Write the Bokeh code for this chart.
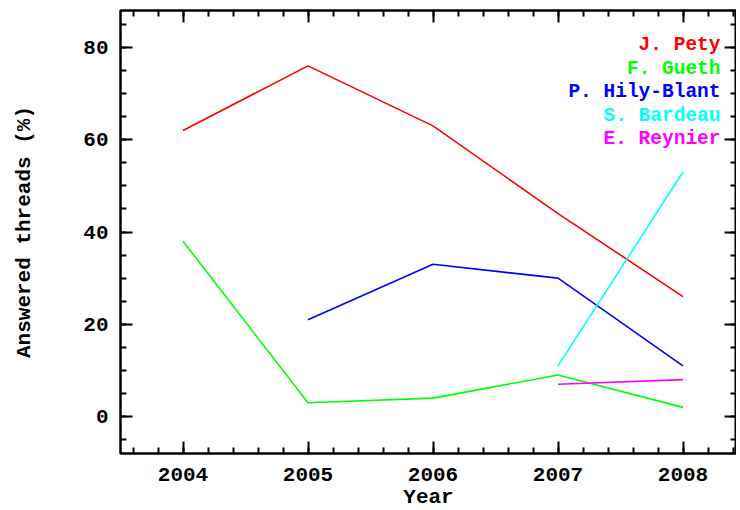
from bokeh.plotting import figure
from bokeh.models import Range1d, LinearAxis, SingleIntervalTicker, Label, CustomJSTickFormatter
from bokeh.embed import file_html
from bokeh.resources import INLINE

# ---- data ----
years = [2004, 2005, 2006, 2007, 2008]
pety = [62, 76, 63, 44, 26]
gueth = [38, 3, 4, 9, 2]
hily_years = [2005, 2006, 2007, 2008]
hily = [21, 33, 30, 11]
bardeau_years = [2007, 2008]
bardeau = [11, 53]
reynier_years = [2007, 2008]
reynier = [7, 8]

names = ["J. Pety", "F. Gueth", "P. Hily-Blant", "S. Bardeau", "E. Reynier"]
colors = ["#ff0000", "#00ff00", "#0000ff", "#00ffff", "#ff00ff"]
series_x = [years, years, hily_years, bardeau_years, reynier_years]
series_y = [pety, gueth, hily, bardeau, reynier]

FONT = "Liberation Mono"

p = figure(frame_width=616, frame_height=443, output_backend="svg", toolbar_location=None,
           x_range=Range1d(2003.5, 2008.428), y_range=Range1d(-8, 88),
           x_axis_label="Year", y_axis_label="Answered threads (%)",
           min_border_left=120, min_border_right=0, min_border_top=10,
           min_border_bottom=0)
p.background_fill_color = "white"
p.border_fill_color = "white"
p.grid.visible = False
p.outline_line_color = "black"
p.outline_line_width = 2

p.xaxis.ticker = SingleIntervalTicker(interval=1, num_minor_ticks=5)
p.yaxis.ticker = SingleIntervalTicker(interval=20, num_minor_ticks=4)


def style_axis(ax, labels=True):
    ax.axis_line_color = "black"
    ax.axis_line_width = 2
    ax.major_tick_line_color = "black"
    ax.major_tick_line_width = 2
    ax.minor_tick_line_color = "black"
    ax.minor_tick_line_width = 2
    ax.major_tick_in = 12
    ax.major_tick_out = 0
    ax.minor_tick_in = 6
    ax.minor_tick_out = 0
    ax.major_label_text_font = FONT
    ax.major_label_text_font_style = "bold"
    ax.major_label_text_color = "black"
    ax.axis_label_text_font = FONT
    ax.axis_label_text_font_style = "bold"
    ax.axis_label_text_color = "black"
    ax.axis_label_text_font_size = "21px"
    ax.major_label_text_font_size = "21px"
    if not labels:
        ax.formatter = CustomJSTickFormatter(code="return ''")
        ax.major_label_standoff = 0


for ax in p.xaxis:
    style_axis(ax)
    ax.major_label_standoff = 14
    ax.axis_label_standoff = 2
for ax in p.yaxis:
    style_axis(ax)
    ax.major_label_standoff = 12
    ax.axis_label_standoff = 44
    ax.major_label_orientation = "horizontal"

top = LinearAxis(ticker=SingleIntervalTicker(interval=1, num_minor_ticks=5))
style_axis(top, labels=False)
p.add_layout(top, "above")
right = LinearAxis(ticker=SingleIntervalTicker(interval=20, num_minor_ticks=4))
style_axis(right, labels=False)
p.add_layout(right, "right")

for xs, ys, c in zip(series_x, series_y, colors):
    p.line(xs, ys, line_color=c, line_width=1.6)

for i, (n, c) in enumerate(zip(names, colors)):
    p.add_layout(Label(x=2008.3, y=80.5 - 5.1 * i, text=n, text_color=c,
                       text_font=FONT, text_font_size="19.5px", text_font_style="bold",
                       text_align="right", text_baseline="middle"))

open("out.html", "w").write(file_html(p, INLINE))
